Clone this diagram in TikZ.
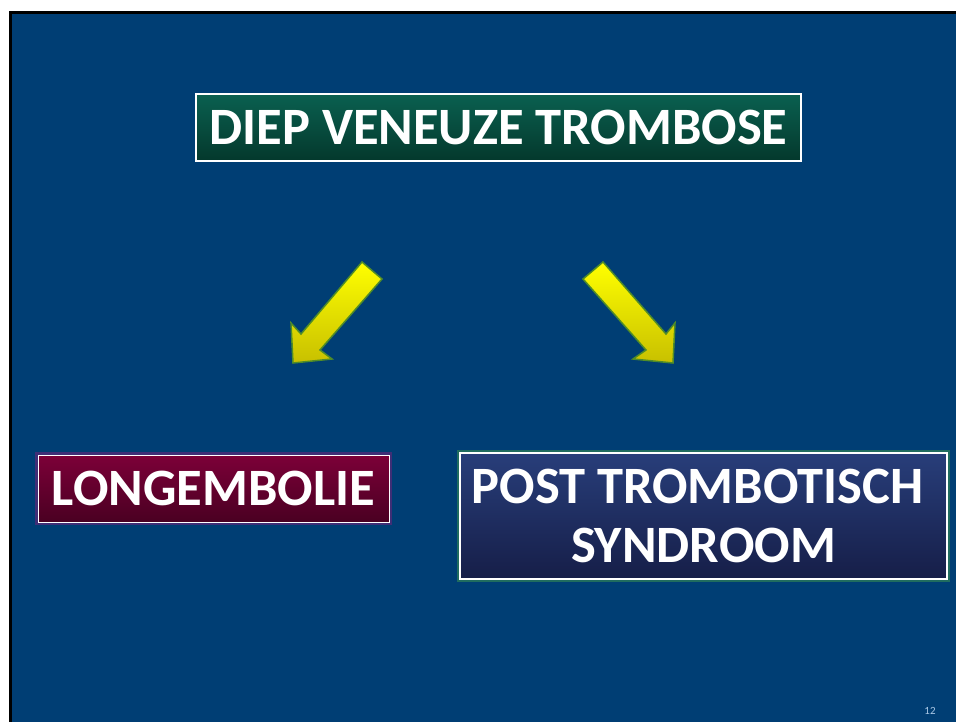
\documentclass[tikz,border=0pt]{standalone}
\usepackage{fontspec}
\setmainfont{Carlito}
\definecolor{slidebg}{RGB}{0,62,116}
\definecolor{greentop}{RGB}{10,96,80}
\definecolor{greenbot}{RGB}{4,56,44}
\definecolor{maroontop}{RGB}{124,0,56}
\definecolor{maroonbot}{RGB}{74,0,34}
\definecolor{navytop}{RGB}{40,62,122}
\definecolor{navybot}{RGB}{22,30,72}
\definecolor{arrowtop}{RGB}{255,255,0}
\definecolor{arrowbot}{RGB}{200,192,0}
\definecolor{arrowline}{RGB}{80,140,40}
\definecolor{pagenum}{RGB}{170,200,230}
\definecolor{greenglow}{RGB}{40,120,90}
\definecolor{purpleglow}{RGB}{90,40,120}
\begin{document}
\begin{tikzpicture}[x=1pt,y=-1pt,
  titlebox/.style={draw=white,line width=1.6pt,inner sep=0pt,text=white,font=\bfseries,align=center},
  yarrow/.style={draw=arrowline,line width=1.5pt,line join=miter,top color=arrowtop,bottom color=arrowbot}]
\useasboundingbox (0,0) rectangle (956,722);
\fill[white] (0,0) rectangle (956,722);
\fill[black] (9,11) rectangle (956,722);
\fill[slidebg] (12,14) rectangle (956,722);
% top box
\node[titlebox,top color=greentop,bottom color=greenbot,minimum width=605pt,minimum height=67pt,
  font=\bfseries\fontsize{52.5}{60}\selectfont] (dvt) at (498.5,127.5) {DIEP VENEUZE TROMBOSE};
% left box glow
\draw[color=purpleglow,line width=2.5pt,opacity=0.7] (36.5,453.5) rectangle (390.5,523.5);
\node[titlebox,line width=1pt,top color=maroontop,bottom color=maroonbot,minimum width=351pt,minimum height=67pt,
  font=\bfseries\fontsize{52.5}{59}\selectfont] (le) at (213.5,488.5) {LONGEMBOLIE};
% right box glow
\draw[color=greenglow,line width=2.5pt,opacity=0.8] (458,451) rectangle (949,581);
\node[titlebox,top color=navytop,bottom color=navybot,minimum width=487pt,minimum height=126pt,
  font=\bfseries\fontsize{52.5}{59}\selectfont] (pts) at (703.5,516) {POST TROMBOTISCH\hspace*{12pt}\\SYNDROOM};
% arrows
\draw[yarrow] (362,262) -- (382,279) -- (320,350) -- (332,359) -- (293,363) -- (291,323) -- (301,334) -- cycle;
\draw[yarrow] (603,262) -- (583,279) -- (646,350) -- (633,359) -- (673,363) -- (675,323) -- (666,334) -- cycle;
% page number
\node[text=pagenum,font=\fontsize{11}{13}\selectfont,inner sep=0pt] (pn) at (930,711) {12};
\end{tikzpicture}
\end{document}
